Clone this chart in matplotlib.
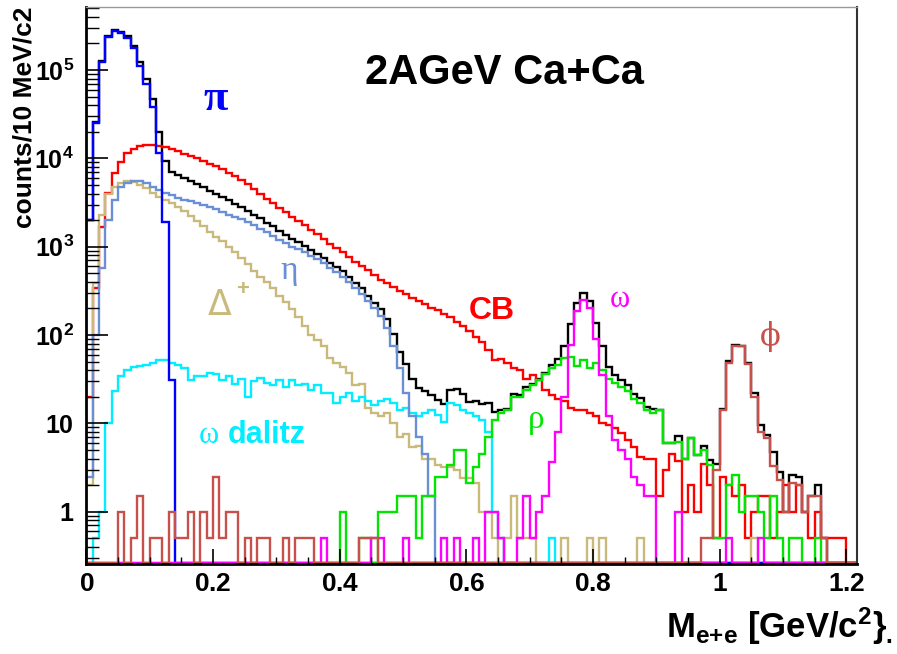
import numpy as np
import matplotlib
matplotlib.use('Agg')
import matplotlib.pyplot as plt
from matplotlib.ticker import MultipleLocator, LogLocator, FuncFormatter, NullFormatter

plt.rcParams['font.family'] = ['Liberation Sans', 'DejaVu Sans']
plt.rcParams['mathtext.fontset'] = 'custom'
plt.rcParams['mathtext.rm'] = 'Liberation Sans:bold'
plt.rcParams['mathtext.bf'] = 'Liberation Sans:bold'
plt.rcParams['mathtext.it'] = 'Liberation Sans:bold'

# --- dilepton cocktail, 10 MeV bins starting at M = 0 ---
BIN_W = 0.01
N_BINS = 122

# pi0 Dalitz (from bin 0)
pi_counts = [2000, 25000, 124000, 238000, 279000, 260000, 230000, 176000, 112000, 70000,
             38500, 11500, 1900, 31]

# CB model (from bin 0)
cb_counts = [20, 340, 1680, 4020, 6770, 9150, 11400, 12900, 13800, 14100,
             14100, 13800, 13300, 12700, 12000, 11350, 10700, 10000, 9300, 8700,
             8100, 7500, 6900, 6300, 5700, 5100, 4500, 3940, 3470, 3090,
             2750, 2450, 2190, 1950, 1740, 1550, 1380, 1220, 1085, 965,
             860, 770, 680, 600, 540, 480, 420, 385, 350, 315,
             290, 263, 240, 222, 205, 190, 175, 162, 140, 125,
             110, 96, 84, 68, 52, 54, 48, 42, 40, 32,
             35, 31, 24, 21, 19, 18, 15, 14, 14, 13,
             12, 10, 9.5, 8.8, 7.7, 6.5, 5.4, 4.2, 4.0, 4.0,
             1.5, 3.0, 4.5, 3.8, 1.0, 2.0, 1.0, 3.5, 2.0, 0.5,
             2.5, 2.0, 1.5, 2.0, 0.5, 1.0, 1.5, 1.5, 0.5, 1.0,
             2.0, 1.0, 2.0, 1.0, 0.5, 1.0, 0.5, 0.5, 0.5, 0.5]

# eta Dalitz (from bin 0)
eta_counts = [2.5, 100, 570, 2000, 3400, 4700, 5300, 5500, 5500, 5200,
              4800, 4400, 4100, 3800, 3600, 3400, 3250, 3100, 2950, 2800,
              2650, 2500, 2300, 2150, 2050, 1900, 1750, 1600, 1450, 1330,
              1200, 1100, 1000, 930, 860, 790, 720, 650, 580, 520,
              460, 400, 340, 290, 245, 200, 165, 120, 75, 42,
              22, 12, 7, 4.5, 1.5]

# Delta+ Dalitz (from bin 0)
delta_counts = [2, 390, 2300, 4000, 4800, 5300, 5500, 5400, 5000, 4600,
                4100, 3700, 3400, 3150, 2850, 2550, 2250, 1950, 1700, 1480,
                1300, 1150, 1000, 870, 740, 630, 530, 460, 400, 340,
                280, 235, 195, 160, 125, 100, 88, 75, 55, 48,
                44, 37, 27, 28, 15, 13, 12, 13, 10, 7,
                7.5, 5.4, 5.5, 4.0, 4.0, 3.4, 3.2, 3.2, 3.0, 2.4,
                2.4, 2.1, 1.0, 1.0, 0.5, 0, 0.5, 1.5, 0.5, 0.5,
                0.5, 0, 0, 0, 0, 0.5, 0, 0, 0, 0.5,
                0, 0.5, 0, 0, 0, 0, 0, 0.5, 0, 0,
                0, 0, 0, 0, 0, 0, 0, 0, 0, 0,
                0, 0, 0, 0, 0, 0.5]

# omega Dalitz (from bin 0)
omega_dal_counts = [0, 0.5, 1.0, 10, 23, 34, 40, 43, 45, 46,
                    48, 52, 52, 48, 46, 42, 31, 34, 34, 37,
                    36, 31, 34, 28, 32, 20, 30, 33, 29, 27,
                    31, 26, 31, 27, 28, 24, 27, 22, 22, 17,
                    20, 22, 18, 20, 18, 16, 18, 19, 17, 14,
                    15, 13, 12, 13, 14, 12.5, 10.5, 17, 16, 14,
                    13, 12, 11, 8, 1.0, 0.5, 0, 0, 0, 0,
                    0, 0, 0, 0.5]

# rho -> e+e- (from bin 40)
rho_start = 40
rho_counts = [1.0, 0, 0, 0.5, 0.5, 0, 1.0, 1.0, 1.0, 1.5,
              1.5, 1.5, 0.5, 1.5, 1.5, 2.5, 2.5, 3.4, 5.0, 5.0,
              2.1, 3.2, 4.5, 7.0, 11, 13, 14, 20, 20, 24,
              27, 31, 36, 42, 46, 55, 57, 45, 52, 42,
              48, 40, 32, 29, 26, 23, 19, 17, 14, 13,
              14, 6.0, 6.0, 6.2, 4.0, 6.8, 4.4, 5.0, 3.4, 0.5,
              0.5, 2.0, 2.6, 1.0, 1.5, 1.5, 1.0, 0.5, 1.5, 0.5,
              0, 0.5, 0.5, 0, 0, 0.5]

# omega -> e+e- (from bin 37)
omega_start = 37
omega_counts = [0.5, 0, 0, 0, 0, 0, 0, 0, 0.5, 0.5,
                0, 0, 0, 0.5, 0, 0, 0, 0, 0, 0.5,
                0, 0.5, 0, 0, 0.5, 0, 1.0, 1.0, 0.5, 0,
                0, 0.5, 1.5, 0.5, 1.0, 1.5, 3.7, 8, 20, 77,
                185, 250, 200, 90, 35, 12, 6.5, 5, 4, 2.5,
                2.0, 1.5, 1.5, 0, 0, 0, 1.0, 0, 0, 0,
                0, 0, 0, 0, 0.5, 0, 0, 0, 0, 0.5]

# phi (from bin 0)
phi_counts = [0, 0, 0, 0, 0, 1.0, 0, 0.5, 1.5, 0,
              0.5, 0.5, 0, 1.0, 0.5, 0.5, 1.0, 0, 1.0, 0.5,
              2.5, 0.5, 1.0, 1.0, 0, 0.5, 0, 0.5, 0.5, 0,
              0, 0.5, 0, 0.5, 0.5, 0.5, 0, 0, 0, 0,
              0, 0, 0, 0.5, 0.5, 0.5, 0, 0, 0, 0,
              0, 0, 0, 0, 0, 0, 0, 0, 0, 0,
              0, 0, 0, 0, 0, 0, 0, 0, 0, 0,
              0, 0, 0, 0, 0, 0, 0, 0, 0, 0,
              0, 0, 0, 0, 0, 0, 0, 0, 0, 0,
              0, 0, 0, 0, 0, 0, 0, 0.5, 0.5, 3.0,
              14, 48, 75, 75, 47, 20, 8, 6.8, 3.3, 2.3,
              1.0, 2.1, 2.0, 1.0, 1.5, 1.5, 0.5]


def fill(counts, start=0):
    h = np.zeros(N_BINS)
    h[start:start + len(counts)] = counts
    return h


edges = np.arange(N_BINS + 1) * BIN_W
h_pi = fill(pi_counts)
h_cb = fill(cb_counts)
h_eta = fill(eta_counts)
h_delta = fill(delta_counts)
h_wdal = fill(omega_dal_counts)
h_rho = fill(rho_counts, rho_start)
h_omega = fill(omega_counts, omega_start)
h_phi = fill(phi_counts)
# cocktail sum (CB drawn separately)
h_sum = h_pi + h_eta + h_delta + h_wdal + h_rho + h_omega + h_phi

YMIN, YMAX = 0.256, 5.17e5
XMAX = 1.2166
floor = YMIN * 1.04   # empty bins sit on the frame bottom

fig = plt.figure(figsize=(8.97, 6.54), dpi=100)
ax = fig.add_axes([0.0964, 0.1376, 0.8590, 0.8517])
ax.set_yscale('log')

hists = [
    (h_sum, '#000000'),
    (h_cb, '#ff0000'),
    (h_delta, '#c9b97a'),
    (h_wdal, '#00eeff'),
    (h_eta, '#6a8fd4'),
    (h_pi, '#0000ff'),
    (h_rho, '#00e600'),
    (h_omega, '#ff00ff'),
    (h_phi, '#c8504a'),
]
for h, c in hists:
    ax.stairs(np.maximum(h, floor), edges, baseline=None, color=c, lw=1.7)

ax.set_xlim(0, XMAX)
ax.set_ylim(YMIN, YMAX)

# ROOT-like axis ticks
ax.xaxis.set_major_locator(MultipleLocator(0.2))
ax.xaxis.set_minor_locator(MultipleLocator(0.05))
ax.xaxis.set_major_formatter(FuncFormatter(lambda v, p: '$%g$' % round(v, 2)))
ax.yaxis.set_major_locator(LogLocator(base=10, numticks=12))
ax.yaxis.set_minor_locator(LogLocator(base=10, subs=np.arange(2, 10), numticks=12))
ax.yaxis.set_minor_formatter(NullFormatter())


def ylab(v, p):
    e = int(round(np.log10(v)))
    if e < 0:
        return ''
    if e == 0:
        return '$1$'
    if e == 1:
        return '$10$'
    return '$10^{%d}$' % e


ax.yaxis.set_major_formatter(FuncFormatter(ylab))
ax.tick_params(axis='x', which='major', direction='in', length=11, width=1.2, pad=6, labelsize=19)
ax.tick_params(axis='x', which='minor', direction='in', length=5, width=1.0)
ax.tick_params(axis='y', which='major', direction='in', length=16, width=1.2, pad=9, labelsize=18)
ax.tick_params(axis='y', which='minor', direction='in', length=9, width=1.0)

for side, lw, col in [('left', 2.0, 'black'), ('bottom', 2.0, 'black'),
                      ('top', 1.0, '#999999'), ('right', 1.5, '#333333')]:
    ax.spines[side].set_linewidth(lw)
    ax.spines[side].set_color(col)
    ax.spines[side].set_zorder(5)

# labels inside the frame
tr = ax.transAxes
ax.text(0.543, 0.8815, '2AGeV Ca+Ca', transform=tr, ha='center', va='center',
        fontsize=30, fontweight='bold')
ax.text(0.168, 0.835, 'π', transform=tr, ha='center', va='center', color='#0000ff',
        fontsize=32, fontweight='bold', family='Liberation Serif')
ax.text(0.263, 0.526, 'η', transform=tr, ha='center', va='center', color='#6a8fd4',
        fontsize=24, family='Liberation Serif')
ax.text(0.173, 0.465, 'Δ', transform=tr, ha='center', va='center', color='#c9b97a',
        fontsize=25, family='DejaVu Sans')
ax.text(0.203, 0.492, '+', transform=tr, ha='center', va='center', color='#c9b97a',
        fontsize=16, fontweight='bold')
ax.text(0.526, 0.454, 'CB', transform=tr, ha='center', va='center', color='#ff0000',
        fontsize=23, fontweight='bold')
ax.text(0.692, 0.474, 'ω', transform=tr, ha='center', va='center', color='#ff00ff',
        fontsize=22, family='Liberation Serif')
ax.text(0.887, 0.409, 'ϕ', transform=tr, ha='center', va='center', color='#c8504a',
        fontsize=22, family='DejaVu Serif')
ax.text(0.584, 0.259, 'ρ', transform=tr, ha='center', va='center', color='#00e600',
        fontsize=24, family='Liberation Serif')
ax.text(0.159, 0.230, 'ω', transform=tr, ha='center', va='center', color='#00eeff',
        fontsize=22, family='Liberation Serif')
ax.text(0.183, 0.232, 'dalitz', transform=tr, ha='left', va='center', color='#00eeff',
        fontsize=22, fontweight='bold')

# axis titles
fig.text(25 / 897, 1 - 7 / 654, 'counts/10 MeV/c2', rotation=90, ha='center', va='top',
         fontsize=19, fontweight='bold')
fig.text(893 / 897, 1 - 638 / 654, r'M$_{\rm e{+}e}$ [GeV/c$^{\rm 2}$}$_{\rm .}$',
         ha='right', va='baseline', fontsize=25, fontweight='bold')

fig.savefig('out.png', dpi=100)
